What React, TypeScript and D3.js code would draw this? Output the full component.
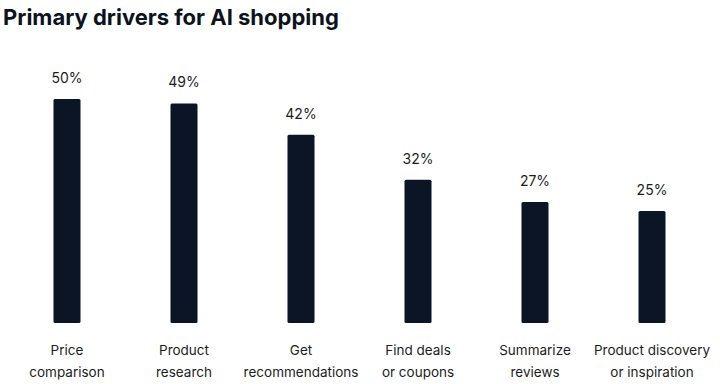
import React from "react";
import * as d3 from "d3";

const categories = [
  ["Price", "comparison"],
  ["Product", "research"],
  ["Get", "recommendations"],
  ["Find deals", "or coupons"],
  ["Summarize", "reviews"],
  ["Product discovery", "or inspiration"],
];
const values = [50, 49, 42, 32, 27, 25];
const title = "Primary drivers for AI shopping";

const W = 720;
const H = 384;
const BAR_COLOR = "#0b1525";
const TEXT_COLOR = "#1b1d22";
const FONT = "Inter, 'Noto Sans', sans-serif";

export default function App() {
  const keys = categories.map((c) => c.join(" "));
  const x = d3.scaleBand<string>().domain(keys).range([8.5, 710.5]).paddingInner(0.77).paddingOuter(0.385);
  const y = d3.scaleLinear().domain([0, 50]).range([323, 99]);
  const bw = x.bandwidth();
  return (
    <svg width={W} height={H} style={{ position: "absolute", left: 0, top: 0, background: "#fff" }}>
      <text x={3} y={25} fontFamily={FONT} fontWeight={700} fontSize={22} fill="#0b1320">
        {title}
      </text>
      {values.map((v, i) => {
        const cx = (x(keys[i]) as number) + bw / 2;
        return (
          <g key={keys[i]}>
            <rect x={cx - 13.5} y={y(v)} width={27} height={y(0) - y(v)} rx={1.5} fill={BAR_COLOR} />
            <text x={cx} y={y(v) - 16} textAnchor="middle" fontFamily={FONT} fontSize={14} fill={TEXT_COLOR}>
              {v}%
            </text>
            {categories[i].map((line, j) => (
              <text key={j} x={cx} y={355 + j * 22} textAnchor="middle" fontFamily={FONT} fontSize={13.5} fill={TEXT_COLOR}>
                {line}
              </text>
            ))}
          </g>
        );
      })}
    </svg>
  );
}
